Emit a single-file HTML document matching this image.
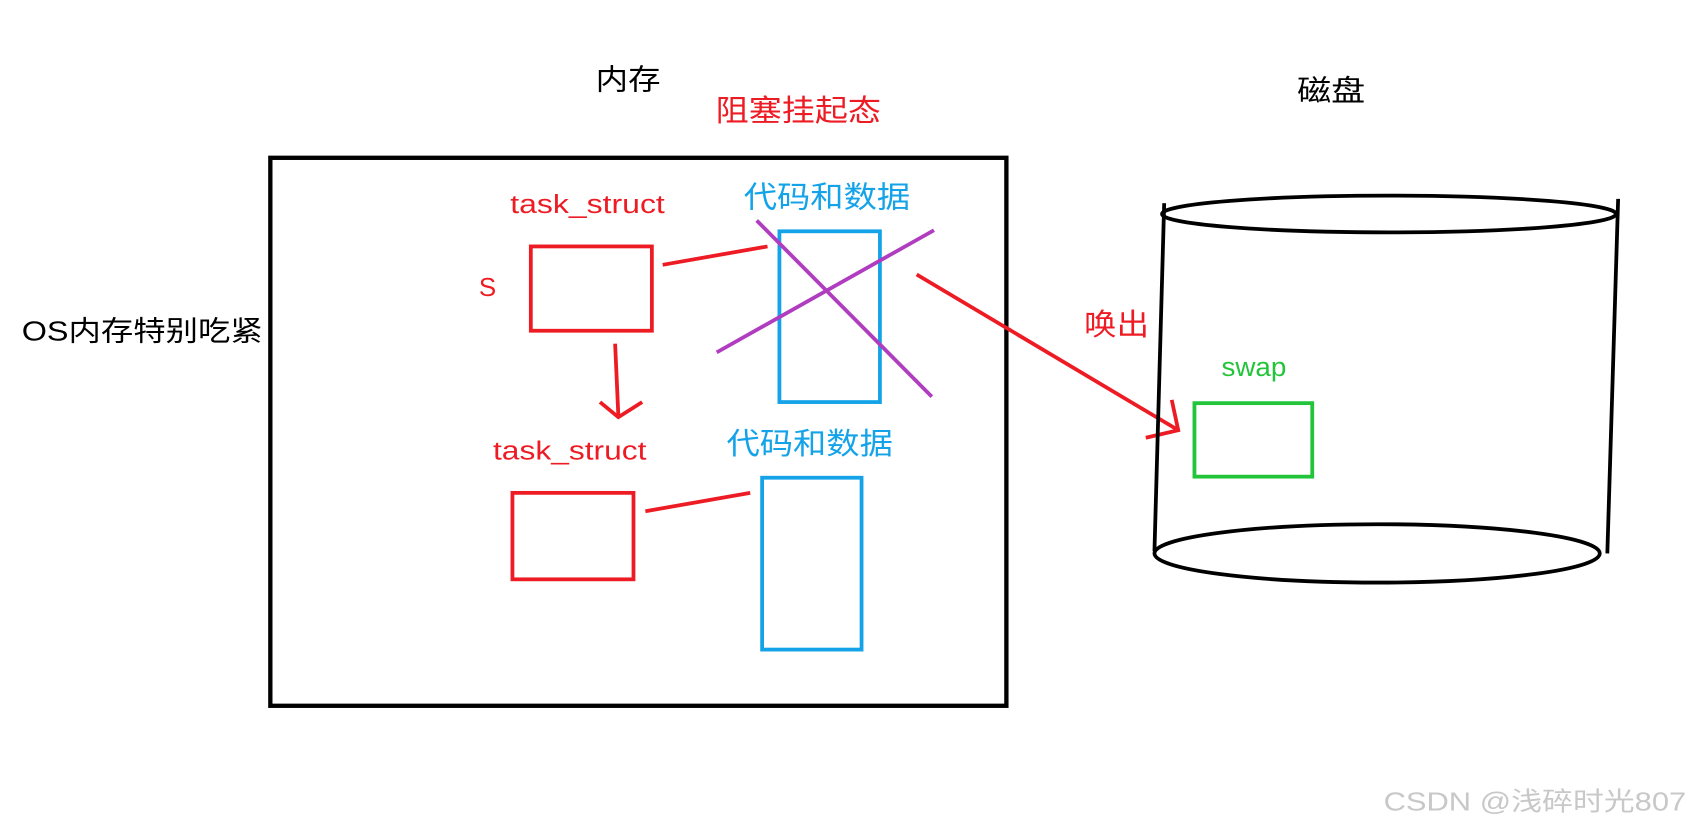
<!DOCTYPE html>
<html><head><meta charset="utf-8"><style>
html,body{margin:0;padding:0;background:#fff;width:1695px;height:829px;overflow:hidden}
svg{display:block}
text{font-family:"Liberation Sans","Noto Sans CJK SC",sans-serif}
</style></head><body>
<svg width="1695" height="829" viewBox="0 0 1568 767" xmlns="http://www.w3.org/2000/svg">
<rect width="1568" height="767" fill="#fff"/>
<text x="551" y="83" font-size="27" fill="#000" textLength="60" lengthAdjust="spacingAndGlyphs">内存</text>
<text x="662" y="112" font-size="28" fill="#ed1c24" textLength="153" lengthAdjust="spacingAndGlyphs">阻塞挂起态</text>
<text x="1200" y="93" font-size="27" fill="#000" textLength="63" lengthAdjust="spacingAndGlyphs">磁盘</text>
<rect x="250" y="146" width="681" height="507" fill="none" stroke="#000" stroke-width="4"/>
<text x="20" y="315" font-size="26" fill="#000" textLength="223" lengthAdjust="spacingAndGlyphs">OS内存特别吃紧</text>
<text x="472" y="197" font-size="24" fill="#ed1c24" textLength="143" lengthAdjust="spacingAndGlyphs">task_struct</text>
<text x="688" y="192" font-size="28" fill="#14a3e8" textLength="154" lengthAdjust="spacingAndGlyphs">代码和数据</text>
<text x="443" y="274" font-size="24" fill="#ed1c24">S</text>
<rect x="491" y="228" width="112" height="78" fill="none" stroke="#ed1c24" stroke-width="3.5"/>
<rect x="721" y="214" width="93" height="158" fill="none" stroke="#14a3e8" stroke-width="3.5"/>
<line x1="613" y1="245" x2="710" y2="228" stroke="#ed1c24" stroke-width="3.5"/>
<line x1="700" y1="204" x2="862" y2="367" stroke="#b03cc0" stroke-width="3.5"/>
<line x1="663" y1="326" x2="864" y2="213" stroke="#b03cc0" stroke-width="3.5"/>
<polyline points="569,318 572,385" fill="none" stroke="#ed1c24" stroke-width="3.5"/>
<polyline points="555,372 572,386 594,372" fill="none" stroke="#ed1c24" stroke-width="3.5"/>
<text x="456" y="425" font-size="24" fill="#ed1c24" textLength="142" lengthAdjust="spacingAndGlyphs">task_struct</text>
<text x="672" y="420" font-size="28" fill="#14a3e8" textLength="154" lengthAdjust="spacingAndGlyphs">代码和数据</text>
<rect x="474" y="456" width="112" height="80" fill="none" stroke="#ed1c24" stroke-width="3.5"/>
<rect x="705" y="442" width="92" height="159" fill="none" stroke="#14a3e8" stroke-width="3.5"/>
<line x1="597" y1="473" x2="694" y2="456" stroke="#ed1c24" stroke-width="3.5"/>
<line x1="848" y1="254" x2="1090" y2="398" stroke="#ed1c24" stroke-width="3.5"/>
<polyline points="1084,370 1090,398 1060,405" fill="none" stroke="#ed1c24" stroke-width="3.5"/>
<text x="1003" y="310" font-size="28" fill="#ed1c24" textLength="60" lengthAdjust="spacingAndGlyphs">唤出</text>
<ellipse cx="1285" cy="198" rx="210" ry="17" fill="none" stroke="#000" stroke-width="3.5"/>
<line x1="1077" y1="188" x2="1068" y2="510" stroke="#000" stroke-width="3.5"/>
<line x1="1497" y1="184" x2="1487" y2="512" stroke="#000" stroke-width="3.5"/>
<ellipse cx="1274" cy="512" rx="206" ry="27" fill="none" stroke="#000" stroke-width="3.5"/>
<text x="1130" y="348" font-size="24" fill="#22c43a" textLength="60" lengthAdjust="spacingAndGlyphs">swap</text>
<rect x="1105" y="373" width="109" height="68" fill="none" stroke="#22c43a" stroke-width="3.5"/>
<text x="1280" y="750" font-size="24" fill="#c8c8c8" textLength="280" lengthAdjust="spacingAndGlyphs">CSDN @浅碎时光807</text>
</svg>
</body></html>
